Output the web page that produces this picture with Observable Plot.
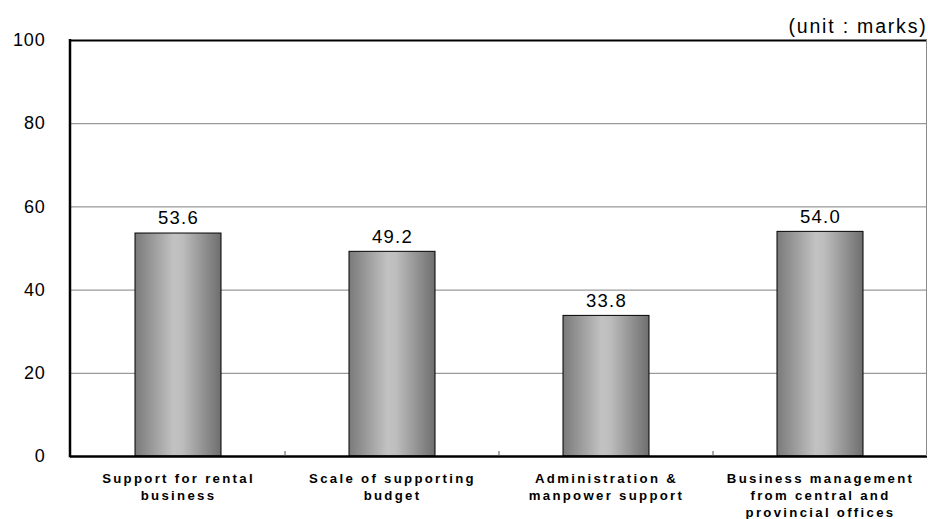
<!DOCTYPE html>
<html>
<head>
<meta charset="utf-8">
<script src="https://cdn.jsdelivr.net/npm/d3@7"></script>
<script src="https://cdn.jsdelivr.net/npm/@observablehq/plot@0.6"></script>
<style>
  html, body { margin: 0; background: #fff; overflow: hidden; }
  #chart svg { display: block; }
  .xlab text { letter-spacing: 2.3px; }
  .ylab text { letter-spacing: 0.8px; }
  .vals text { letter-spacing: 1.3px; }
  .unit text { letter-spacing: 1.8px; }
</style>
</head>
<body>
<div id="chart"></div>
<script>
// Satisfaction scores by support area (unit: marks)
const categories = [
  "Support for rental\nbusiness",
  "Scale of supporting\nbudget",
  "Administration &\nmanpower support",
  "Business management\nfrom central and\nprovincial offices"
];
const scores = [53.6, 49.2, 33.8, 54.0];
const yTicks = [0, 20, 40, 60, 80, 100];
const unitLabel = "(unit : marks)";

const data = categories.map((c, i) => ({category: c, score: scores[i]}));

const chart = Plot.plot({
  width: 928,
  height: 519,
  marginLeft: 70,
  marginRight: 1,
  marginTop: 40,
  marginBottom: 63,
  style: {fontFamily: "Liberation Sans, Arial, sans-serif", background: "#fff", maxWidth: "none"},
  x: {domain: categories, paddingInner: 0.6, paddingOuter: 0.3, label: null},
  y: {domain: [0, 100], label: null},
  marks: [
    // horizontal gridlines
    Plot.ruleY(yTicks.filter(d => d > 0 && d < 100), {stroke: "#808080", strokeWidth: 1, strokeOpacity: 1}),
    Plot.ruleY([100], {stroke: "#000", strokeWidth: 2}),
    // bars
    Plot.barY(data, {x: "category", y: "score", fill: "url(#barGrad)", stroke: "#000", strokeWidth: 1}),
    // value labels
    Plot.text(data, {x: "category", y: "score", text: d => d.score.toFixed(1), dy: -15, fontSize: 18.5, fill: "#000", className: "vals"}),
    // axes
    Plot.axisY({ticks: yTicks, tickSize: 0, tickPadding: 25, fontSize: 18, fill: "#000", className: "ylab"}),
    Plot.axisX({tickSize: 0, tickPadding: 14, fontSize: 13.2, fontWeight: "bold", fill: "#000", lineHeight: 1.3, className: "xlab"}),
    Plot.ruleY([0], {stroke: "#000", strokeWidth: 2.5}),
    // unit note
    Plot.text([unitLabel], {frameAnchor: "top-right", dy: -21, dx: 0, fontSize: 19.5, fill: "#000", textAnchor: "end", className: "unit"})
  ]
});

// shaded cylinder-like gradient for the bars
const svg = d3.select(chart);
const defs = svg.insert("defs", ":first-child");
const grad = defs.append("linearGradient").attr("id", "barGrad")
  .attr("x1", "0%").attr("x2", "100%").attr("y1", "0%").attr("y2", "0%");
[[0, "#7a7a7a"], [0.45, "#c2c2c2"], [0.55, "#bdbdbd"], [1, "#6e6e6e"]]
  .forEach(([o, c]) => grad.append("stop").attr("offset", o).attr("stop-color", c));

const xs = chart.scale("x");
const ys = chart.scale("y");
const [x0, x1] = xs.range;
const yTop = ys.apply(100), yBottom = ys.apply(0);

// plot frame: gray right edge, black left axis line
const frameG = svg.append("g");
frameG.append("line").attr("x1", x1 - 0.5).attr("x2", x1 - 0.5).attr("y1", yTop).attr("y2", yBottom)
  .attr("stroke", "#8a8a8a").attr("stroke-width", 1);
frameG.append("line").attr("x1", x0).attr("x2", x0).attr("y1", yTop - 1).attr("y2", yBottom + 1.25)
  .attr("stroke", "#000").attr("stroke-width", 2.5);

// small tick marks between category bands on the baseline
const step = xs.step;
for (let i = 1; i < categories.length; i++) {
  const x = xs.apply(categories[i]) - (step - xs.bandwidth) / 2;
  frameG.append("line")
    .attr("x1", x).attr("x2", x)
    .attr("y1", yBottom).attr("y2", yBottom - 5)
    .attr("stroke", "#555").attr("stroke-width", 1);
}

document.getElementById("chart").append(chart);
</script>
</body>
</html>
